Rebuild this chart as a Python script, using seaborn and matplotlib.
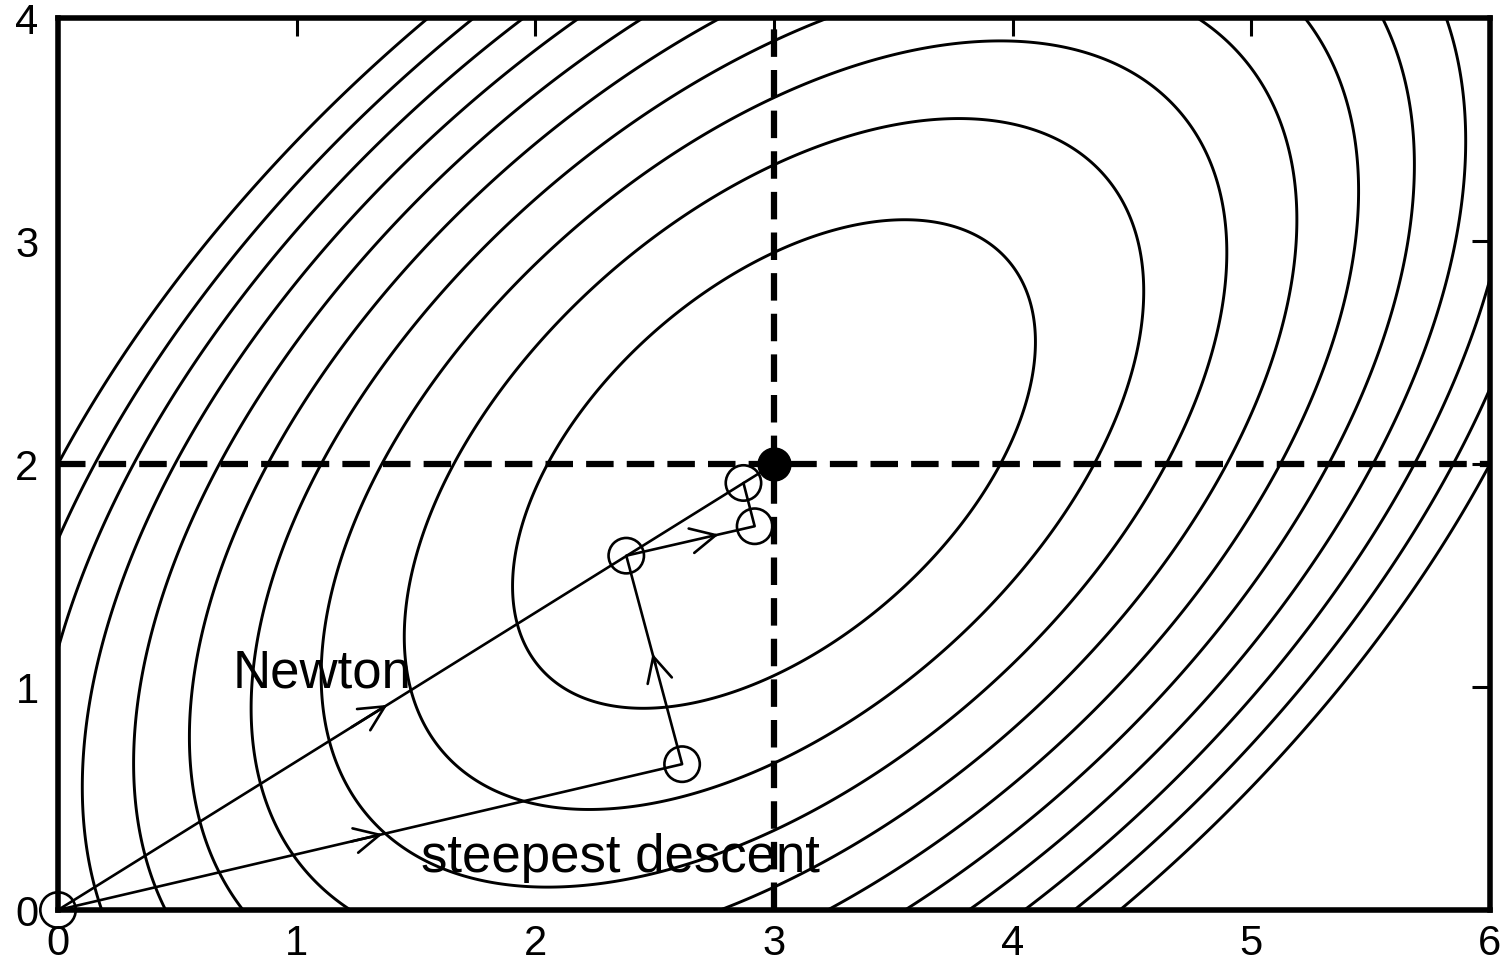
import numpy as np
import pandas as pd
import matplotlib
matplotlib.use("Agg")
import matplotlib.pyplot as plt
import seaborn as sns

# Quadratic objective f = a*(x-x0)^2 + b*(y-y0)^2 + c*(x-x0)*(y-y0)
minimum = (3.0, 2.0)
coef_a, coef_b, coef_c = 1.0, 1.0, -1.0
levels = [0.9, 1.8, 2.7, 3.6, 4.5, 5.4, 6.3, 7.2, 8.1, 9.0]

# Iterates of the two methods, starting at the origin
sd_x = [0.0, 2.615, 2.381, 2.919, 2.872]
sd_y = [0.0, 0.654, 1.589, 1.721, 1.915]
newton_x = [0.0, 3.0]
newton_y = [0.0, 2.0]

x_ticks = [0, 1, 2, 3, 4, 5, 6]
y_ticks = [0, 1, 2, 3, 4]

sns.set_theme(style="white")
plt.rcParams["font.family"] = ["Liberation Sans", "DejaVu Sans"]
plt.rcParams["text.color"] = "black"

fig = plt.figure(figsize=(15.07, 9.74), dpi=100)
ax = fig.add_axes([0.0385, 0.0657, 0.9502, 0.9158])

gx = np.linspace(0, 6, 900)
gy = np.linspace(0, 4, 600)
X, Y = np.meshgrid(gx, gy)
dX, dY = X - minimum[0], Y - minimum[1]
Z = coef_a * dX**2 + coef_b * dY**2 + coef_c * dX * dY
ax.contour(X, Y, Z, levels=levels, colors="black", linewidths=2.1, zorder=1)

# Dashed guides through the minimiser
ax.axvline(minimum[0], color="black", lw=4.5, ls=(0, (4.4, 2.1)), zorder=2)
ax.axhline(minimum[1], color="black", lw=4.5, ls=(0, (4.4, 2.1)), zorder=2)

path_sd = pd.DataFrame({"x": sd_x, "y": sd_y})
path_nt = pd.DataFrame({"x": newton_x, "y": newton_y})
sns.lineplot(data=path_sd, x="x", y="y", sort=False, color="black", lw=1.9, ax=ax, zorder=3)
sns.lineplot(data=path_nt, x="x", y="y", sort=False, color="black", lw=1.9, ax=ax, zorder=3)


def mid_arrow(xs, ys, i, frac):
    x0, y0, x1, y1 = xs[i], ys[i], xs[i + 1], ys[i + 1]
    tip = (x0 + frac * (x1 - x0), y0 + frac * (y1 - y0))
    tail = (x0 + (frac - 0.05) * (x1 - x0), y0 + (frac - 0.05) * (y1 - y0))
    ax.annotate("", xy=tip, xytext=tail,
                arrowprops=dict(arrowstyle="->,head_length=0.9,head_width=0.45",
                                mutation_scale=20, color="black", lw=1.9,
                                shrinkA=0, shrinkB=0),
                zorder=4)


mid_arrow(newton_x, newton_y, 0, 0.46)
mid_arrow(sd_x, sd_y, 0, 0.52)
mid_arrow(sd_x, sd_y, 1, 0.53)
mid_arrow(sd_x, sd_y, 2, 0.72)

sns.scatterplot(x=sd_x, y=sd_y, s=650, facecolors="none", edgecolor="black",
                linewidth=1.9, ax=ax, zorder=5, clip_on=False)
sns.scatterplot(x=[minimum[0]], y=[minimum[1]], s=560, color="black",
                edgecolor="black", linewidth=1, ax=ax, zorder=6)

ax.text(0.73, 1.0, "Newton", fontsize=38, color="black", ha="left", va="baseline", zorder=7)
ax.text(1.52, 0.17, "steepest descent", fontsize=38, color="black", ha="left",
        va="baseline", zorder=7)

ax.set_xlim(0, 6)
ax.set_ylim(0, 4)
ax.set_xticks(x_ticks)
ax.set_yticks(y_ticks)
ax.set_xlabel("")
ax.set_ylabel("")
ax.tick_params(direction="in", length=13, width=2.2, top=True, right=True,
               labelsize=30, colors="black")
ax.tick_params(axis="x", pad=10)
ax.tick_params(axis="y", pad=14)
for sp in ax.spines.values():
    sp.set_visible(True)
    sp.set_color("black")
    sp.set_linewidth(4)

fig.savefig("out.png", dpi=100)
